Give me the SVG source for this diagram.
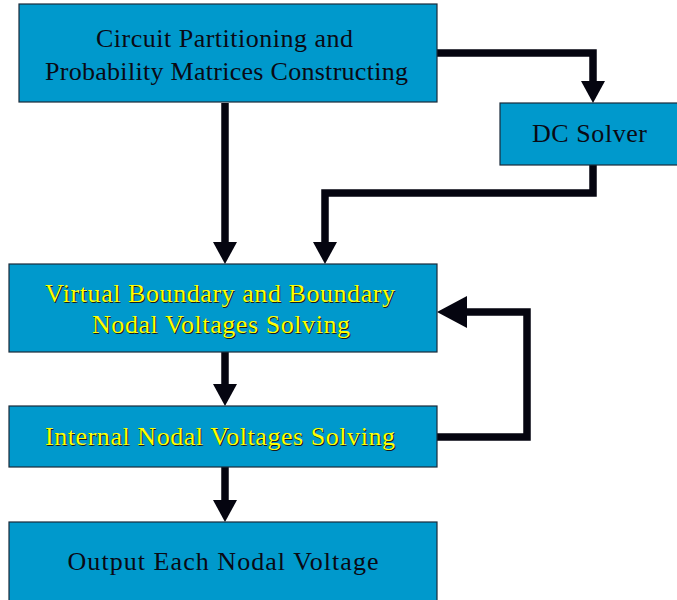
<svg xmlns="http://www.w3.org/2000/svg" width="677" height="600" viewBox="0 0 677 600">
<style>
.box{fill:#0099cc;stroke:#1a2a3a;stroke-width:1.2}
.t{font-family:"Liberation Serif","Times New Roman",serif;font-size:26px;text-anchor:middle}
.dark{fill:#0a0a14}
.yel{fill:#ffff00}
.sh{fill:#1a1a1a}
.c{fill:none;stroke:#050510;stroke-width:7.5;stroke-linejoin:miter}
</style>
<defs>
<marker id="ah" markerUnits="userSpaceOnUse" markerWidth="22" markerHeight="24" viewBox="0 0 22 24" refX="0" refY="12" orient="auto">
<path d="M0,0 L22,12 L0,24 z" fill="#050510"/>
</marker>
<marker id="ahb" markerUnits="userSpaceOnUse" markerWidth="30" markerHeight="32" viewBox="0 0 30 32" refX="0" refY="16" orient="auto">
<path d="M0,0 L30,16 L0,32 z" fill="#050510"/>
</marker>
</defs>
<rect width="677" height="600" fill="#ffffff"/>
<g id="connectors">
<path class="c" d="M225,103 V242" marker-end="url(#ah)"/>
<path class="c" d="M437,53 H593 V81" marker-end="url(#ah)"/>
<path class="c" d="M593,165 V193 H325 V242" marker-end="url(#ah)"/>
<path class="c" d="M225,352 V384" marker-end="url(#ah)"/>
<path class="c" d="M225,467 V500" marker-end="url(#ah)"/>
<path class="c" d="M437,437 H527 V312 H467" marker-end="url(#ahb)"/>
</g>
<g id="n1">
<rect class="box" x="19" y="4" width="418" height="98"/>
<text class="t dark" x="224.5" y="47" textLength="257" lengthAdjust="spacing">Circuit Partitioning and</text>
<text class="t dark" x="226.5" y="80" textLength="363" lengthAdjust="spacing">Probability Matrices Constructing</text>
</g>
<g id="n2">
<rect class="box" x="500" y="103" width="178" height="62"/>
<text class="t dark" x="589.5" y="142" textLength="115" lengthAdjust="spacing">DC Solver</text>
</g>
<g id="n3">
<rect class="box" x="9" y="264" width="428" height="88"/>
<text class="t sh" x="221" y="303" textLength="350" lengthAdjust="spacing">Virtual Boundary and Boundary</text>
<text class="t yel" x="220" y="302" textLength="350" lengthAdjust="spacing">Virtual Boundary and Boundary</text>
<text class="t sh" x="222" y="334" textLength="258" lengthAdjust="spacing">Nodal Voltages Solving</text>
<text class="t yel" x="221" y="333" textLength="258" lengthAdjust="spacing">Nodal Voltages Solving</text>
</g>
<g id="n4">
<rect class="box" x="9" y="406" width="428" height="61"/>
<text class="t sh" x="221" y="446" textLength="350" lengthAdjust="spacing">Internal Nodal Voltages Solving</text>
<text class="t yel" x="220" y="445" textLength="350" lengthAdjust="spacing">Internal Nodal Voltages Solving</text>
</g>
<g id="n5">
<rect class="box" x="9" y="522" width="428" height="90"/>
<text class="t dark" x="223" y="570" textLength="311" lengthAdjust="spacing">Output Each Nodal Voltage</text>
</g>
</svg>
